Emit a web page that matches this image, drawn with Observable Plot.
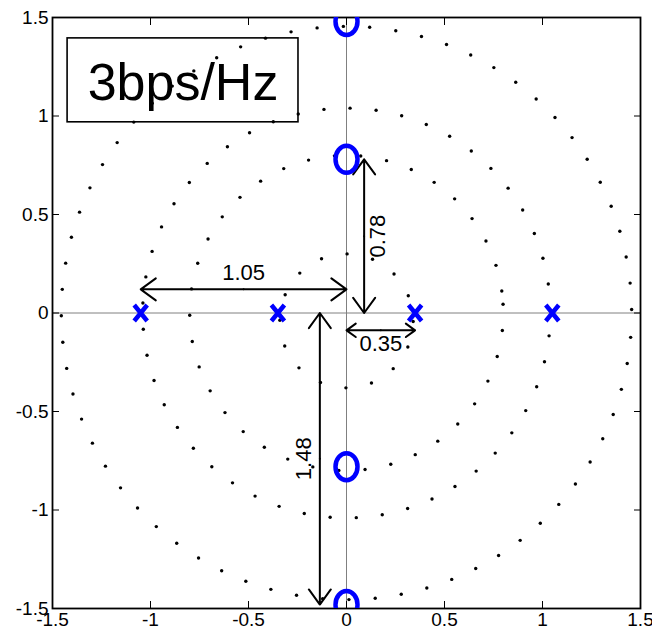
<!DOCTYPE html>
<html>
<head>
<meta charset="utf-8">
<script src="https://cdn.jsdelivr.net/npm/d3@7"></script>
<script src="https://cdn.jsdelivr.net/npm/@observablehq/plot@0.6"></script>
<style>
  html, body { margin: 0; padding: 0; background: #fff; }
  #chart svg { display: block; }
</style>
</head>
<body>
<div id="chart"></div>
<script>
// Axis ticks (both axes share the same range)
const tickValues = [-1.5, -1, -0.5, 0, 0.5, 1, 1.5];

// Zeros on the imaginary axis ("o" markers)
const zeroRe = [0, 0, 0, 0];
const zeroIm = [1.48, 0.78, -0.78, -1.48];

// Poles on the real axis ("x" markers)
const poleRe = [-1.05, -0.35, 0.35, 1.05];
const poleIm = [0, 0, 0, 0];

// Dotted reference rings: radius, centre offset, number of dots, first dot angle, spacing
const ringRadius = [0.34, 0.80, 1.04, 1.455];
const ringCentreIm = [-0.04, 0, 0, 0];
const ringDots = [16, 38, 49, 68];
const ringStartDeg = [-0.5, 8.0, 0.8, 0.7];
const ringStepDeg = [22.5, 9.6, 7.35, 5.29];

// Distance annotations: label, measured length, direction, offset from the axis
const dimLabel = ["1.05", "0.78", "0.35", "1.48"];
const dimLength = [-1.05, 0.78, 0.35, -1.48];
const dimAxis = ["x", "y", "x", "y"];
const dimOffset = [0.12, 0.09, -0.088, -0.136];
const dimSide = ["above", "right", "below", "left"];

// Title box
const boxLabel = "3bps/Hz";

const blue = "#0000ff";

const rings = ringRadius.flatMap((r, i) =>
  d3.range(ringDots[i]).map(k => {
    const a = (ringStartDeg[i] + k * ringStepDeg[i]) * Math.PI / 180;
    return {re: r * Math.cos(a), im: ringCentreIm[i] + r * Math.sin(a)};
  })
);

const zeros = zeroRe.map((re, i) => ({re, im: zeroIm[i]}));
const poles = poleRe.map((re, i) => ({re, im: poleIm[i]}));

const dims = dimLabel.map((label, i) => ({
  label, len: dimLength[i], axis: dimAxis[i], off: dimOffset[i], side: dimSide[i]
}));

// each double-headed arrow is two arrows drawn outward from its midpoint
const dimSegs = dims.flatMap(d => {
  const mid = d.len / 2;
  return [0, d.len].map(end => d.axis === "x"
    ? {x1: mid, x2: end, y1: d.off, y2: d.off}
    : {x1: d.off, x2: d.off, y1: mid, y2: end});
});

const sideOffset = {above: [0, -16], below: [0, 14], right: [14, 0], left: [-16, 0]};

// marker shapes: a bold "x" and a slightly tall "o"
const crossSymbol = {
  draw(ctx) {
    ctx.moveTo(-6.5, -8); ctx.lineTo(6.5, 8);
    ctx.moveTo(6.5, -8); ctx.lineTo(-6.5, 8);
  }
};
const ringSymbol = {
  draw(ctx) {
    const rx = 11, ry = 13.5, k = 0.5523;
    ctx.moveTo(rx, 0);
    ctx.bezierCurveTo(rx, ry * k, rx * k, ry, 0, ry);
    ctx.bezierCurveTo(-rx * k, ry, -rx, ry * k, -rx, 0);
    ctx.bezierCurveTo(-rx, -ry * k, -rx * k, -ry, 0, -ry);
    ctx.bezierCurveTo(rx * k, -ry, rx, -ry * k, rx, 0);
    ctx.closePath();
  }
};

const fmt = d => String(d);
const blank = () => "";
const font = 19;

const chart = Plot.plot({
  width: 652,
  height: 638,
  marginLeft: 52,
  marginRight: 12,
  marginTop: 17,
  marginBottom: 30,
  style: {fontFamily: "'Liberation Sans', Arial, sans-serif", background: "#fff"},
  x: {domain: [-1.5, 1.5], ticks: tickValues, label: null},
  y: {domain: [-1.5, 1.5], ticks: tickValues, label: null},
  marks: [
    Plot.ruleX([0], {stroke: "#808080", strokeWidth: 1}),
    Plot.ruleY([0], {stroke: "#808080", strokeWidth: 1}),
    // inward ticks on all four sides
    Plot.axisX(tickValues, {anchor: "bottom", tickSize: 7, dy: -7, tickFormat: blank, label: null, stroke: "#000"}),
    Plot.axisX(tickValues, {anchor: "top", tickSize: 7, dy: 7, tickFormat: blank, label: null, stroke: "#000"}),
    Plot.axisY(tickValues, {anchor: "left", tickSize: 7, dx: 7, tickFormat: blank, label: null, stroke: "#000"}),
    Plot.axisY(tickValues, {anchor: "right", tickSize: 7, dx: -7, tickFormat: blank, label: null, stroke: "#000"}),
    // tick labels
    Plot.axisX(tickValues, {anchor: "bottom", tickSize: 0, tickPadding: 4, tickFormat: fmt, label: null, fontSize: font, fill: "#000"}),
    Plot.axisY(tickValues, {anchor: "left", tickSize: 0, tickPadding: 4, tickFormat: fmt, label: null, fontSize: font, fill: "#000"}),
    Plot.frame({stroke: "#000", strokeWidth: 1.8}),
    // title box
    Plot.rect([{x1: -1.423, x2: -0.245, y1: 0.968, y2: 1.394}], {x1: "x1", x2: "x2", y1: "y1", y2: "y2", fill: "#fff", stroke: "#000", strokeWidth: 1.6}),
    Plot.text([boxLabel], {x: -0.834, y: 1.164, text: d => d, fontSize: 52, fill: "#000", lineAnchor: "middle"}),
    // dotted rings
    Plot.dot(rings, {x: "re", y: "im", r: 1.7, fill: "#000", stroke: null}),
    // distance arrows
    Plot.arrow(dimSegs, {x1: "x1", y1: "y1", x2: "x2", y2: "y2", stroke: "#000", strokeWidth: 2, headLength: 14, headAngle: 72, bend: 0}),
    ...dims.map(d => Plot.text([d], {
      x: d.axis === "x" ? d.len / 2 : d.off,
      y: d.axis === "x" ? d.off : d.len / 2,
      text: "label",
      rotate: d.axis === "y" ? -90 : 0,
      dx: sideOffset[d.side][0],
      dy: sideOffset[d.side][1],
      fontSize: 22,
      fill: "#000"
    })),
    // poles and zeros
    Plot.dot(poles, {x: "re", y: "im", symbol: crossSymbol, r: 6, stroke: blue, strokeWidth: 4.5, fill: "none"}),
    Plot.dot(zeros, {x: "re", y: "im", symbol: ringSymbol, r: 6, stroke: blue, strokeWidth: 4.5, fill: "none", clip: true})
  ]
});

document.getElementById("chart").appendChild(chart);
</script>
</body>
</html>
